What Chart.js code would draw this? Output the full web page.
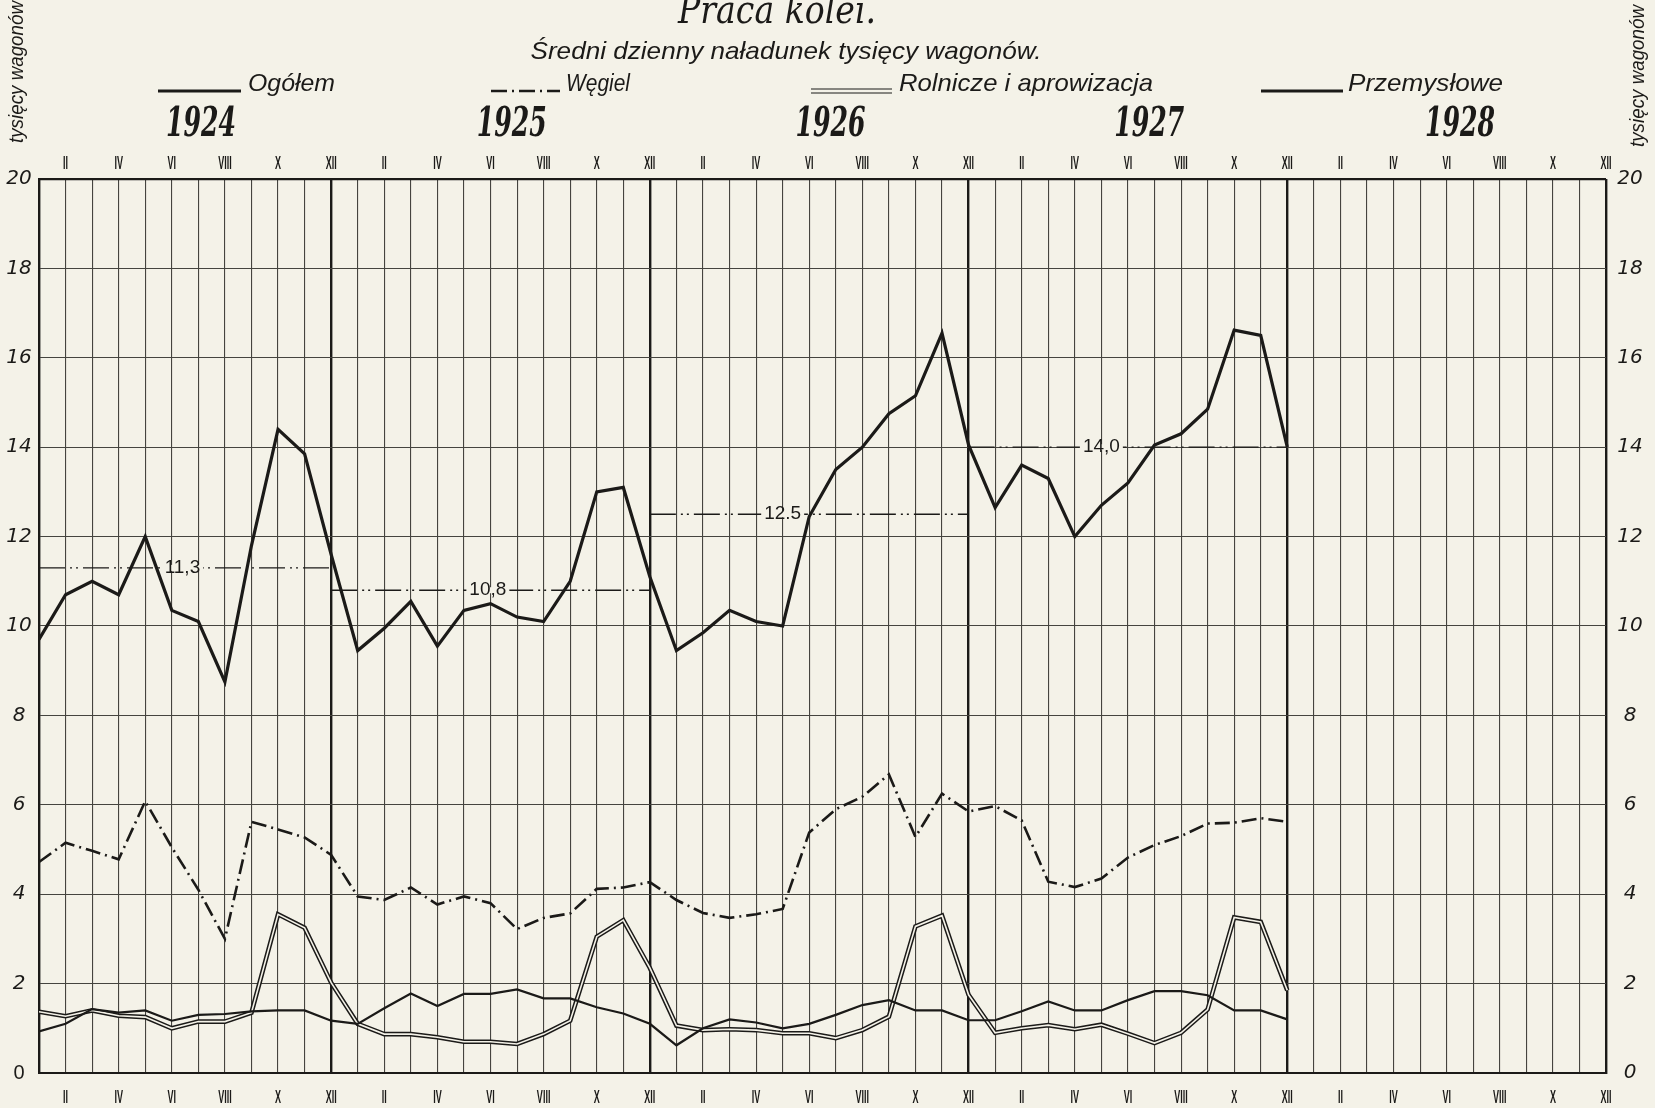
<!DOCTYPE html>
<html>
<head>
<meta charset="utf-8">
<title>Praca kolei</title>
<script src="https://cdn.jsdelivr.net/npm/chart.js@4.4.0/dist/chart.umd.min.js"></script>
<style>
  html, body { margin: 0; padding: 0; background: #f4f2e8; }
  #wrap { width: 1655px; height: 1108px; }
</style>
</head>
<body>
<div id="wrap"><canvas id="chart" width="1655" height="1108"></canvas></div>
<script>
// dane (tys. wagonów dziennie), I 1924 .. XII 1927
const years = ['1924', '1925', '1926', '1927', '1928'];
const months = ['I', 'II', 'III', 'IV', 'V', 'VI', 'VII', 'VIII', 'IX', 'X', 'XI', 'XII'];

const ogolem = [
  9.7, 10.7, 11.0, 10.7, 12.0, 10.35, 10.1, 8.75, 11.8, 14.4, 13.85, 11.6,
  9.45, 9.95, 10.55, 9.55, 10.35, 10.5, 10.2, 10.1, 11.0, 13.0, 13.1, 11.1,
  9.45, 9.85, 10.35, 10.1, 10.0, 12.45, 13.5, 14.0, 14.75, 15.15, 16.55, 14.05,
  12.65, 13.6, 13.3, 12.0, 12.7, 13.2, 14.05, 14.3, 14.85, 16.62, 16.5, 14.0
];
const wegiel = [
  4.72, 5.15, 4.97, 4.78, 6.08, 5.05, 4.1, 3.0, 5.62, 5.45, 5.27, 4.88,
  3.95, 3.87, 4.15, 3.77, 3.95, 3.8, 3.22, 3.47, 3.57, 4.12, 4.15, 4.27,
  3.87, 3.58, 3.47, 3.55, 3.67, 5.38, 5.9, 6.18, 6.68, 5.28, 6.25, 5.85,
  5.97, 5.65, 4.28, 4.16, 4.35, 4.82, 5.1, 5.3, 5.58, 5.6, 5.7, 5.62
];
const rolnicze = [
  1.37, 1.27, 1.4, 1.28, 1.25, 1.0, 1.15, 1.15, 1.35, 3.55, 3.25, 2.02,
  1.1, 0.87, 0.87, 0.8, 0.7, 0.7, 0.65, 0.87, 1.17, 3.05, 3.42, 2.35,
  1.06, 0.96, 0.98, 0.96, 0.89, 0.89, 0.78, 0.96, 1.26, 3.28, 3.52, 1.75,
  0.9, 1.0, 1.07, 0.98, 1.08, 0.88, 0.67, 0.9, 1.42, 3.48, 3.38, 1.85
];
const przemyslowe = [
  0.93, 1.1, 1.43, 1.35, 1.4, 1.17, 1.3, 1.32, 1.38, 1.4, 1.4, 1.17,
  1.1, 1.45, 1.78, 1.5, 1.77, 1.77, 1.87, 1.67, 1.67, 1.47, 1.33, 1.1,
  0.62, 1.0, 1.2, 1.13, 1.0, 1.1, 1.3, 1.52, 1.63, 1.4, 1.4, 1.18,
  1.18, 1.38, 1.6, 1.4, 1.4, 1.63, 1.83, 1.83, 1.74, 1.4, 1.4, 1.2
];

// średnie roczne ogółem i zakres miesięcy, na którym leży linia
const averages = [11.3, 10.8, 12.5, 14.0];
const averageLabels = ['11,3', '10,8', '12.5', '14,0'];
const averageSpans = [[0, 11], [11, 23], [23, 35], [35, 47]];

const yTicks = [0, 2, 4, 6, 8, 10, 12, 14, 16, 18, 20];

const paper = '#f4f2e8';
const ink = '#1b1a18';
const gridInk = '#45443f';

const points = arr => arr.map((v, i) => ({ x: i, y: v }));

// tekst z ewentualnym ściśnięciem do zadanej szerokości
function fitText(c, text, x, y, font, width, opts = {}) {
  c.save();
  c.font = font;
  c.fillStyle = opts.color || ink;
  c.textAlign = opts.align || 'center';
  c.textBaseline = opts.baseline || 'middle';
  c.translate(x, y);
  if (opts.rotate) c.rotate(opts.rotate);
  const w = c.measureText(text).width;
  const sx = width ? width / w : (opts.sx || 1);
  c.scale(sx, 1);
  c.fillText(text, 0, 0);
  c.restore();
}

function hline(c, x1, x2, y, w, dash) {
  c.save();
  c.strokeStyle = ink;
  c.lineWidth = w;
  c.setLineDash(dash || []);
  c.beginPath();
  c.moveTo(x1, y);
  c.lineTo(x2, y);
  c.stroke();
  c.restore();
}

const paperPlugin = {
  id: 'paper',
  beforeDraw(chart) {
    const c = chart.ctx;
    c.save();
    c.fillStyle = paper;
    c.fillRect(0, 0, chart.width, chart.height);
    c.restore();
  }
};

const textPlugin = {
  id: 'texts',
  afterDraw(chart) {
    const c = chart.ctx;
    const xs = chart.scales.x;
    const ys = chart.scales.y;
    const area = chart.chartArea;

    // tytuł i podtytuł
    fitText(c, 'Praca kolei.', 777, 23, 'italic 40px "DejaVu Serif"', 198, { baseline: 'alphabetic' });
    fitText(c, 'Średni dzienny naładunek tysięcy wagonów.', 786, 52, 'italic 24px "Liberation Sans"', 511);

    // legenda
    hline(c, 158, 241, 91, 3);
    fitText(c, 'Ogółem', 248, 84, 'italic 24px "Liberation Sans"', 87, { align: 'left' });
    hline(c, 491, 560, 91, 2.5, [16, 5, 2, 5]);
    fitText(c, 'Węgiel', 566, 84, 'italic 24px "Liberation Sans"', 64, { align: 'left' });
    hline(c, 811, 892, 89, 1.1);
    hline(c, 811, 892, 93, 1.1);
    fitText(c, 'Rolnicze i aprowizacja', 899, 84, 'italic 24px "Liberation Sans"', 254, { align: 'left' });
    hline(c, 1261, 1343, 91, 3);
    fitText(c, 'Przemysłowe', 1348, 84, 'italic 24px "Liberation Sans"', 155, { align: 'left' });

    // lata (środek roku, lekko przesunięty jak w oryginale)
    const yearShift = [6.1, 5.8, 5.8, 5.8, 5.5];
    years.forEach((yr, k) => {
      fitText(c, yr, xs.getPixelForValue(12 * k + yearShift[k]), 125, 'bold italic 41px "DejaVu Serif"', 70);
    });

    // miesiące (parzyste) u góry i u dołu
    for (let i = 1; i < 60; i += 2) {
      const x = xs.getPixelForValue(i);
      const m = months[i % 12];
      fitText(c, m, x, area.top - 15, 'bold 18px "Liberation Sans"', 0, { sx: 0.5 });
      fitText(c, m, x, area.bottom + 25, 'bold 18px "Liberation Sans"', 0, { sx: 0.5 });
    }

    // podziałka pionowa z obu stron
    yTicks.forEach(v => {
      const y = ys.getPixelForValue(v);
      const leftFont = v === 0 ? '20px "Liberation Sans"' : 'italic 20px "DejaVu Sans"';
      fitText(c, String(v), 19, y, leftFont, 0);
      fitText(c, String(v), 1630, y, 'italic 20px "DejaVu Sans"', 0);
    });

    // opisy osi
    fitText(c, 'tysięcy wagonów', 17, 72, 'italic 20px "Liberation Sans"', 142, { rotate: -Math.PI / 2 });
    fitText(c, 'tysięcy wagonów', 1638, 76, 'italic 20px "Liberation Sans"', 142, { rotate: -Math.PI / 2 });

    // etykiety średnich
    averages.forEach((v, k) => {
      const [a, b] = averageSpans[k];
      const x = xs.getPixelForValue((a + b) / 2 - (k > 1 ? 1 : 0.1));
      const y = ys.getPixelForValue(v);
      c.save();
      c.font = '19px "Liberation Sans"';
      const w = c.measureText(averageLabels[k]).width;
      c.fillStyle = paper;
      c.fillRect(x - w / 2 - 3, y - 3, w + 6, 6);
      c.restore();
      fitText(c, averageLabels[k], x, y, '19px "Liberation Sans"', 0);
    });
  }
};

const averageSets = averages.map((v, k) => ({
  label: 'średnia ' + years[k],
  data: averageSpans[k].map(i => ({ x: i, y: v })),
  borderColor: ink,
  borderWidth: 1.3,
  borderDash: [26, 5, 2, 4, 2, 5],
  pointRadius: 0,
  order: 5
}));

const pad = { left: 39, right: 49, top: 179, bottom: 35 };

const chart = new Chart(document.getElementById('chart'), {
  type: 'line',
  data: {
    datasets: [
      { label: 'Ogółem', data: points(ogolem), borderColor: ink, borderWidth: 3.2, pointRadius: 0, borderJoinStyle: 'miter', order: 0 },
      { label: 'Przemysłowe', data: points(przemyslowe), borderColor: ink, borderWidth: 2.2, pointRadius: 0, order: 1 },
      { label: 'Rolnicze i aprowizacja', data: points(rolnicze), borderColor: paper, borderWidth: 1.6, pointRadius: 0, order: 2 },
      { label: 'Rolnicze (obrys)', data: points(rolnicze), borderColor: ink, borderWidth: 4.6, pointRadius: 0, order: 3 },
      { label: 'Węgiel', data: points(wegiel), borderColor: ink, borderWidth: 2.6, borderDash: [15, 5, 2, 5], pointRadius: 0, order: 4 },
      ...averageSets
    ]
  },
  options: {
    responsive: false,
    animation: false,
    layout: { padding: pad },
    plugins: { legend: { display: false }, tooltip: { enabled: false } },
    scales: {
      x: {
        type: 'linear', min: 0, max: 59,
        ticks: { display: false, stepSize: 1, autoSkip: false },
        grid: {
          drawTicks: false,
          color: c => (c.tick.value % 12 === 11 || c.tick.value === 0 ? ink : gridInk),
          lineWidth: c => (c.tick.value % 12 === 11 || c.tick.value === 0 ? 2.4 : 1.1)
        },
        border: { display: true, width: 2, color: ink }
      },
      y: {
        min: 0, max: 20,
        ticks: { display: false, stepSize: 2 },
        grid: {
          drawTicks: false,
          color: c => (c.tick.value === 20 ? ink : gridInk),
          lineWidth: c => (c.tick.value === 20 ? 2.2 : 1.1)
        },
        border: { display: true, width: 2, color: ink }
      }
    }
  },
  plugins: [paperPlugin, textPlugin]
});

// dopasowanie obszaru wykresu do oryginału
const want = { left: 39, top: 179, right: 1606, bottom: 1073 };
const got = chart.chartArea;
pad.left += want.left - got.left;
pad.top += want.top - got.top;
pad.right += got.right - want.right;
pad.bottom += got.bottom - want.bottom;
chart.update();
</script>
</body>
</html>
